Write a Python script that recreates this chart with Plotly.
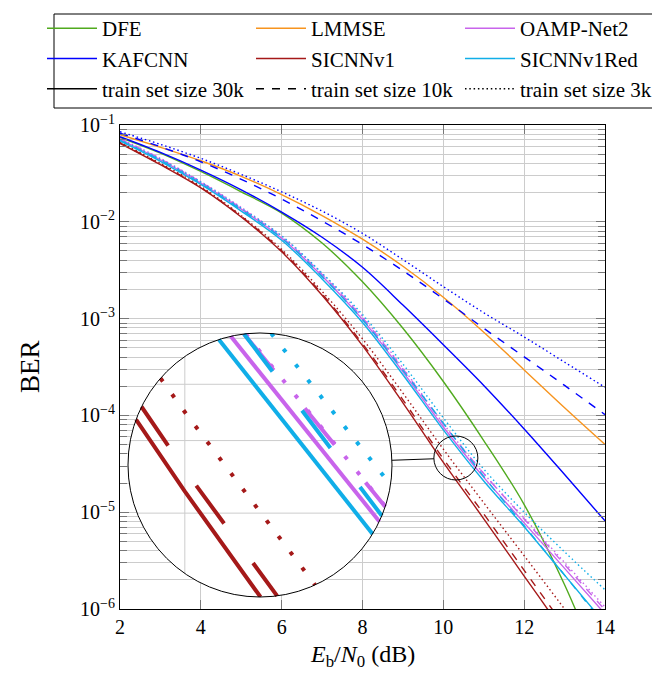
import numpy as np
import plotly.graph_objects as go

# ---------------- data ----------------
snr_db = [2, 3, 4, 5, 6, 7, 8, 9, 10, 11, 12, 13, 14]

ber_dfe = [7.45e-2, 5.13e-2, 3.31e-2, 2.04e-2, 1.23e-2, 6.03e-3, 2.40e-3, 7.94e-4, 2.24e-4, 5.50e-5, 1.20e-5, 1.78e-6, 1.78e-7]
ber_lmmse = [7.94e-2, 5.89e-2, 4.27e-2, 2.95e-2, 1.91e-2, 1.16e-2, 6.61e-3, 3.47e-3, 1.66e-3, 7.24e-4, 2.95e-4, 1.20e-4, 5.01e-5]
ber_kaf_30k = [7.57e-2, 5.21e-2, 3.42e-2, 2.14e-2, 1.26e-2, 6.92e-3, 3.39e-3, 1.38e-3, 5.37e-4, 2.04e-4, 7.24e-5, 2.45e-5, 8.13e-6]
ber_kaf_10k = [8.22e-2, 5.96e-2, 4.17e-2, 2.75e-2, 1.72e-2, 1.02e-2, 5.82e-3, 3.13e-3, 1.60e-3, 7.94e-4, 4.03e-4, 2.04e-4, 1.02e-4]
ber_kaf_3k = [8.51e-2, 6.31e-2, 4.52e-2, 3.09e-2, 2.04e-2, 1.29e-2, 7.59e-3, 4.07e-3, 2.14e-3, 1.15e-3, 6.46e-4, 3.55e-4, 1.95e-4]
ber_oamp_30k = [7.08e-2, 4.37e-2, 2.51e-2, 1.35e-2, 6.76e-3, 2.75e-3, 9.77e-4, 2.82e-4, 7.59e-5, 2.29e-5, 7.76e-6, 2.63e-6, 8.91e-7]
ber_oamp_10k = [7.16e-2, 4.47e-2, 2.57e-2, 1.38e-2, 6.92e-3, 2.85e-3, 1.02e-3, 3.02e-4, 8.13e-5, 2.51e-5, 8.51e-6, 2.88e-6, 9.77e-7]
ber_oamp_3k = [7.24e-2, 4.52e-2, 2.60e-2, 1.41e-2, 7.08e-3, 2.92e-3, 1.05e-3, 3.09e-4, 8.22e-5, 2.51e-5, 8.71e-6, 3.02e-6, 1.05e-6]
ber_sic_30k = [6.46e-2, 3.89e-2, 2.24e-2, 1.12e-2, 4.90e-3, 1.74e-3, 5.25e-4, 1.35e-4, 3.27e-5, 8.55e-6, 2.19e-6, 5.62e-7, 1.41e-7]
ber_sic_10k = [6.53e-2, 3.94e-2, 2.26e-2, 1.14e-2, 5.01e-3, 1.80e-3, 5.50e-4, 1.45e-4, 3.56e-5, 9.59e-6, 2.51e-6, 6.61e-7, 1.74e-7]
ber_sic_3k = [6.61e-2, 4.03e-2, 2.32e-2, 1.16e-2, 5.19e-3, 1.91e-3, 6.17e-4, 1.70e-4, 4.48e-5, 1.25e-5, 3.55e-6, 1.00e-6, 2.82e-7]
ber_sicred_30k = [6.84e-2, 4.22e-2, 2.43e-2, 1.29e-2, 6.46e-3, 2.57e-3, 9.12e-4, 2.63e-4, 7.08e-5, 2.10e-5, 7.08e-6, 2.24e-6, 7.08e-7]
ber_sicred_10k = [6.92e-2, 4.32e-2, 2.48e-2, 1.33e-2, 6.76e-3, 2.72e-3, 9.77e-4, 2.92e-4, 8.32e-5, 2.34e-5, 7.24e-6, 2.24e-6, 6.76e-7]
ber_sicred_3k = [7.00e-2, 4.42e-2, 2.57e-2, 1.38e-2, 7.16e-3, 2.95e-3, 1.10e-3, 3.39e-4, 9.44e-5, 2.79e-5, 1.00e-5, 3.89e-6, 1.58e-6]

x_ticks = [2, 4, 6, 8, 10, 12, 14]
y_ticks = [1e-6, 1e-5, 1e-4, 1e-3, 1e-2, 1e-1]
y_ticktext = ["10<sup>\u22126</sup>", "10<sup>\u22125</sup>", "10<sup>\u22124</sup>",
              "10<sup>\u22123</sup>", "10<sup>\u22122</sup>", "10<sup>\u22121</sup>"]
y_minor = [k * 10.0 ** e for e in range(-6, -1) for k in range(2, 10)]

method_names = ["DFE", "LMMSE", "OAMP-Net2", "KAFCNN", "SICNNv1", "SICNNv1Red"]
x_title = "<i>E</i><sub>b</sub>/<i>N</i><sub>0</sub> (dB)"
y_title = "BER"

# ---------------- styles ----------------
COL = {"DFE": "#50aa1e", "LMMSE": "#f7941e", "OAMP-Net2": "#c864eb",
       "KAFCNN": "#0000ff", "SICNNv1": "#a51919", "SICNNv1Red": "#10aee8"}
DASH_MAIN = {"30k": "solid", "10k": "8px,8px", "3k": "1.5px,2.8px"}
DASH_INSET = {"30k": "solid", "10k": "47px,49px", "3k": "4px,15.7px"}
FONT = "Liberation Serif"

curves = [
    ("DFE", "30k", ber_dfe),
    ("LMMSE", "30k", ber_lmmse),
    ("KAFCNN", "30k", ber_kaf_30k), ("KAFCNN", "10k", ber_kaf_10k), ("KAFCNN", "3k", ber_kaf_3k),
    ("OAMP-Net2", "30k", ber_oamp_30k), ("OAMP-Net2", "10k", ber_oamp_10k), ("OAMP-Net2", "3k", ber_oamp_3k),
    ("SICNNv1", "30k", ber_sic_30k), ("SICNNv1", "10k", ber_sic_10k), ("SICNNv1", "3k", ber_sic_3k),
    ("SICNNv1Red", "30k", ber_sicred_30k), ("SICNNv1Red", "10k", ber_sicred_10k), ("SICNNv1Red", "3k", ber_sicred_3k),
]

# ---------------- geometry ----------------
FW, FH = 660, 673
L, T, W, H = 112, 117, 485, 484
XR = (2, 14)
LYR = (-6, -1)
pxx = W / (XR[1] - XR[0])
pxd = H / (LYR[1] - LYR[0])

spy_x, spy_ly = 10.31, -4.44          # centre of the magnified spot
r_small, mag = 22, 6
big_cx, big_cy = 252, 457             # centre of the magnifier (px)
r_big = r_small * mag
hx, hy = r_small / pxx, r_small / pxd

def px_to_paper(px, py):
    return (px - L) / W, (T + H - py) / H

small_cx = L + (spy_x - XR[0]) * pxx
small_cy = T + (LYR[1] - spy_ly) * pxd

fig = go.Figure()

# main curves
for m, s, vals in curves:
    fig.add_trace(go.Scatter(x=snr_db, y=vals, mode="lines", line_shape="spline",
                             line=dict(color=COL[m], width=1.4, dash=DASH_MAIN[s]),
                             showlegend=False, hoverinfo="skip", xaxis="x", yaxis="y"))

# ---------------- inset (magnified) ----------------
def clip_to_circle(xs, lys):
    u = (np.asarray(xs, float) - spy_x) / hx
    v = (np.asarray(lys, float) - spy_ly) / hy
    ou, ov, last = [], [], None
    for i in range(len(u) - 1):
        p0 = np.array([u[i], v[i]]); p1 = np.array([u[i + 1], v[i + 1]])
        d = p1 - p0
        a = d @ d; b = 2 * p0 @ d; c = p0 @ p0 - 1
        disc = b * b - 4 * a * c
        if a == 0 or disc <= 0:
            continue
        sq = np.sqrt(disc)
        t0 = max((-b - sq) / (2 * a), 0.0); t1 = min((-b + sq) / (2 * a), 1.0)
        if t0 >= t1:
            continue
        q0 = p0 + t0 * d; q1 = p0 + t1 * d
        if last is not None and np.allclose(last, q0):
            ou.append(q1[0]); ov.append(q1[1])
        else:
            if ou:
                ou.append(None); ov.append(None)
            ou += [q0[0], q1[0]]; ov += [q0[1], q1[1]]
        last = q1
    xo = [None if q is None else spy_x + q * hx for q in ou]
    yo = [None if q is None else 10 ** (spy_ly + q * hy) for q in ov]
    return xo, yo

# white disk of the magnifier
th = np.linspace(0, 2 * np.pi, 241)
fig.add_trace(go.Scatter(x=spy_x + hx * np.cos(th), y=10 ** (spy_ly + hy * np.sin(th)),
                         mode="lines", fill="toself", fillcolor="white", line=dict(width=0),
                         showlegend=False, hoverinfo="skip", xaxis="x2", yaxis="y2"))
# magnified grid lines
for g in x_ticks:
    uu = (g - spy_x) / hx
    if abs(uu) < 1:
        hv = np.sqrt(1 - uu * uu)
        fig.add_trace(go.Scatter(x=[g, g], y=[10 ** (spy_ly - hv * hy), 10 ** (spy_ly + hv * hy)],
                                 mode="lines", line=dict(color="#cccccc", width=1),
                                 showlegend=False, hoverinfo="skip", xaxis="x2", yaxis="y2"))
for g in y_minor + y_ticks:
    vv = (np.log10(g) - spy_ly) / hy
    if abs(vv) < 1:
        hu = np.sqrt(1 - vv * vv)
        fig.add_trace(go.Scatter(x=[spy_x - hu * hx, spy_x + hu * hx], y=[g, g],
                                 mode="lines", line=dict(color="#cccccc", width=1),
                                 showlegend=False, hoverinfo="skip", xaxis="x2", yaxis="y2"))
for m, s, vals in curves:
    xo, yo = clip_to_circle(snr_db, np.log10(vals))
    if xo:
        fig.add_trace(go.Scatter(x=xo, y=yo, mode="lines",
                                 line=dict(color=COL[m], width=4, dash=DASH_INSET[s]),
                                 showlegend=False, hoverinfo="skip", xaxis="x2", yaxis="y2"))

# ---------------- legend entries ----------------
legend_of = {"DFE": "legend", "KAFCNN": "legend", "LMMSE": "legend2", "SICNNv1": "legend2",
             "OAMP-Net2": "legend3", "SICNNv1Red": "legend3"}
for m in method_names:
    fig.add_trace(go.Scatter(x=[None], y=[None], mode="lines", name=m,
                             line=dict(color=COL[m], width=1.5), legend=legend_of[m]))
for s, lg in zip(["30k", "10k", "3k"], ["legend", "legend2", "legend3"]):
    fig.add_trace(go.Scatter(x=[None], y=[None], mode="lines", name="train set size " + s,
                             line=dict(color="black", width=1.5, dash=DASH_MAIN[s]), legend=lg))

leg_common = dict(xref="container", yref="container", xanchor="left", yanchor="top",
                  orientation="v", bgcolor="rgba(0,0,0,0)", borderwidth=0,
                  font=dict(family=FONT, size=21, color="black"), itemwidth=50,
                  tracegroupgap=0)
col_px = [34, 243, 452]
leg_top = -1

# ---------------- shapes ----------------
shapes = []
lx0, ly0 = px_to_paper(46, 100)
lx1, ly1 = px_to_paper(658, 6)
shapes.append(dict(type="rect", xref="paper", yref="paper", x0=lx0, x1=lx1, y0=ly0, y1=ly1,
                   line=dict(color="black", width=1), layer="above"))
bx0, by0 = px_to_paper(big_cx - r_big, big_cy + r_big)
bx1, by1 = px_to_paper(big_cx + r_big, big_cy - r_big)
shapes.append(dict(type="circle", xref="paper", yref="paper", x0=bx0, x1=bx1, y0=by0, y1=by1,
                   line=dict(color="black", width=1), layer="above"))
sx0, sy0 = px_to_paper(small_cx - r_small, small_cy + r_small)
sx1, sy1 = px_to_paper(small_cx + r_small, small_cy - r_small)
shapes.append(dict(type="circle", xref="paper", yref="paper", x0=sx0, x1=sx1, y0=sy0, y1=sy1,
                   line=dict(color="black", width=1), layer="above"))
dx, dy = small_cx - big_cx, small_cy - big_cy
dn = np.hypot(dx, dy)
ax_, ay_ = px_to_paper(big_cx + r_big * dx / dn, big_cy + r_big * dy / dn)
bx_, by_ = px_to_paper(small_cx - r_small * dx / dn, small_cy - r_small * dy / dn)
shapes.append(dict(type="line", xref="paper", yref="paper", x0=ax_, x1=bx_, y0=ay_, y1=by_,
                   line=dict(color="black", width=1), layer="above"))

# ---------------- axis titles ----------------
annotations = [
    dict(text=x_title, xref="paper", yref="paper", x=0.5, y=(T + H - 648) / H,
         xanchor="center", yanchor="middle", showarrow=False,
         font=dict(family=FONT, size=24, color="black")),
    dict(text=y_title, xref="paper", yref="paper", x=(22 - L) / W, y=0.5, textangle=-90,
         xanchor="center", yanchor="middle", showarrow=False,
         font=dict(family=FONT, size=27, color="black")),
]

fig.update_layout(
    width=FW, height=FH,
    margin=dict(l=L, r=FW - L - W, t=T, b=FH - T - H, autoexpand=False),
    paper_bgcolor="white", plot_bgcolor="rgba(0,0,0,0)",
    font=dict(family=FONT, color="black"),
    showlegend=True,
    legend=dict(x=col_px[0] / FW, y=1 - leg_top / FH, **leg_common),
    legend2=dict(x=col_px[1] / FW, y=1 - leg_top / FH, **leg_common),
    legend3=dict(x=col_px[2] / FW, y=1 - leg_top / FH, **leg_common),
    shapes=shapes,
    annotations=annotations,
    xaxis=dict(range=list(XR), tickmode="array", tickvals=x_ticks, ticks="inside", ticklen=9,
               tickcolor="#777777", showgrid=True, gridcolor="#cccccc", gridwidth=1,
               showline=True, linecolor="black", linewidth=1, mirror="allticks", zeroline=False,
               tickfont=dict(family=FONT, size=20, color="black")),
    yaxis=dict(type="log", range=list(LYR), tickmode="array", tickvals=y_ticks, ticktext=y_ticktext,
               ticks="inside", ticklen=9, tickcolor="#777777", showgrid=True, gridcolor="#cccccc",
               gridwidth=1, showline=True, linecolor="black", linewidth=1, mirror="allticks",
               zeroline=False, tickfont=dict(family=FONT, size=20, color="black"),
               minor=dict(tickmode="array", tickvals=y_minor, ticks="inside", ticklen=7,
                          tickcolor="#777777", showgrid=True, gridcolor="#cccccc", gridwidth=1)),
    xaxis2=dict(domain=[bx0, bx1], range=[spy_x - hx, spy_x + hx], visible=False, anchor="y2"),
    yaxis2=dict(domain=[by0, by1], type="log", range=[spy_ly - hy, spy_ly + hy], visible=False,
                anchor="x2"),
)

fig.write_html("out.html")
